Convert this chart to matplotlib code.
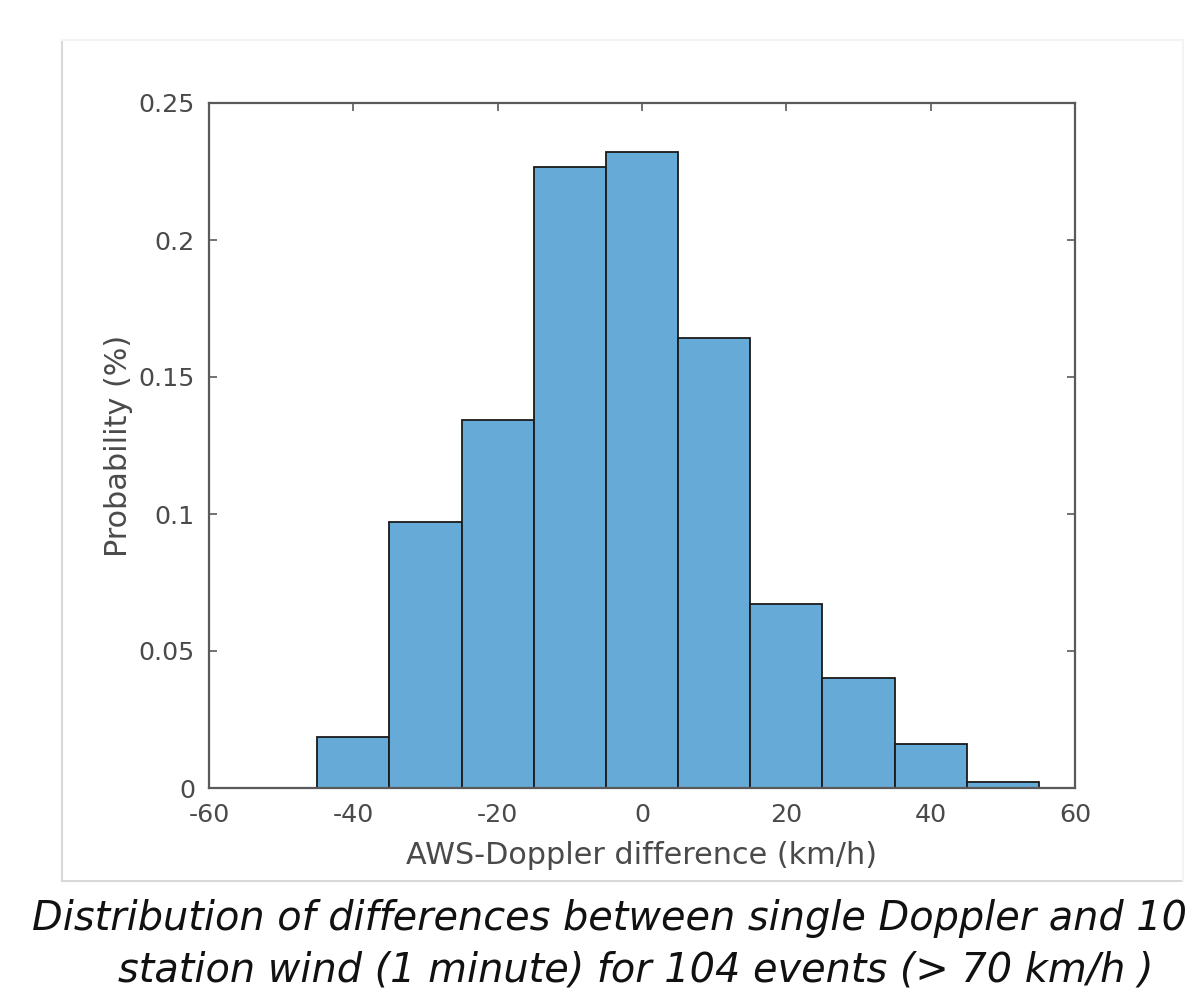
import matplotlib
matplotlib.use("Agg")
import matplotlib.pyplot as plt
from matplotlib.lines import Line2D

# Data
bin_edges = [-45, -35, -25, -15, -5, 5, 15, 25, 35, 45, 55]
probabilities = [0.0185, 0.0971, 0.1343, 0.2266, 0.2321, 0.1642, 0.0672, 0.0401, 0.0160, 0.0022]
x_ticks = [-60, -40, -20, 0, 20, 40, 60]
y_ticks = [0, 0.05, 0.1, 0.15, 0.2, 0.25]
y_tick_labels = ["0", "0.05", "0.1", "0.15", "0.2", "0.25"]
x_label = "AWS-Doppler difference (km/h)"
y_label = "Probability (%)"
caption_1 = "Distribution of differences between single Doppler and 10"
caption_2 = "station wind (1 minute) for 104 events (> 70 km/h )"

plt.rcParams['font.family'] = ['DejaVu Sans']

fig = plt.figure(figsize=(11.96, 9.98), dpi=100)
fig.patch.set_facecolor('white')

# light frame around the figure region
fx0, fx1 = 62 / 1196, 1183 / 1196
fy0, fy1 = 1 - 881 / 998, 1 - 40 / 998
fig.add_artist(Line2D([fx0, fx0], [fy0, fy1], transform=fig.transFigure, color='#d9d9d9', lw=1.5))
fig.add_artist(Line2D([fx0, fx1], [fy0, fy0], transform=fig.transFigure, color='#d9d9d9', lw=1.5))
fig.add_artist(Line2D([fx0, fx1], [fy1, fy1], transform=fig.transFigure, color='#f3f3f3', lw=1.5))
fig.add_artist(Line2D([fx1, fx1], [fy0, fy1], transform=fig.transFigure, color='#f3f3f3', lw=1.5))

left, right = 209 / 1196, 1075 / 1196
bottom, top = 1 - 788 / 998, 1 - 103 / 998
ax = fig.add_axes([left, bottom, right - left, top - bottom])

centers = [(bin_edges[i] + bin_edges[i + 1]) / 2 for i in range(len(probabilities))]
widths = [bin_edges[i + 1] - bin_edges[i] for i in range(len(probabilities))]
ax.bar(centers, probabilities, width=widths, color='#66AAD7', edgecolor='#1a1a1a', linewidth=1.3, zorder=2)

ax.set_xlim(-60, 60)
ax.set_ylim(0, 0.25)
ax.set_xticks(x_ticks)
ax.set_xticklabels([str(v) for v in x_ticks])
ax.set_yticks(y_ticks)
ax.set_yticklabels(y_tick_labels)

tick_color = '#4a4a4a'
for s in ax.spines.values():
    s.set_color('#5a5a5a')
    s.set_linewidth(1.6)
    s.set_zorder(3)
ax.tick_params(direction='in', length=6, width=1.2, color='#5a5a5a', top=True, right=True,
               labelsize=18.3, labelcolor=tick_color, pad=11)
ax.tick_params(axis='y', pad=10)

ax.set_xlabel(x_label, fontsize=21.8, color=tick_color, labelpad=10)
ax.set_ylabel(y_label, fontsize=21.8, color=tick_color, labelpad=4)

fig.text(32 / 1196, 1 - 918 / 998, caption_1, fontsize=28.7, style='italic', color='#111111',
         ha='left', va='center')
fig.text(118 / 1196, 1 - 970 / 998, caption_2, fontsize=28.7, style='italic', color='#111111',
         ha='left', va='center')

fig.savefig('out.png', dpi=100, facecolor='white')
